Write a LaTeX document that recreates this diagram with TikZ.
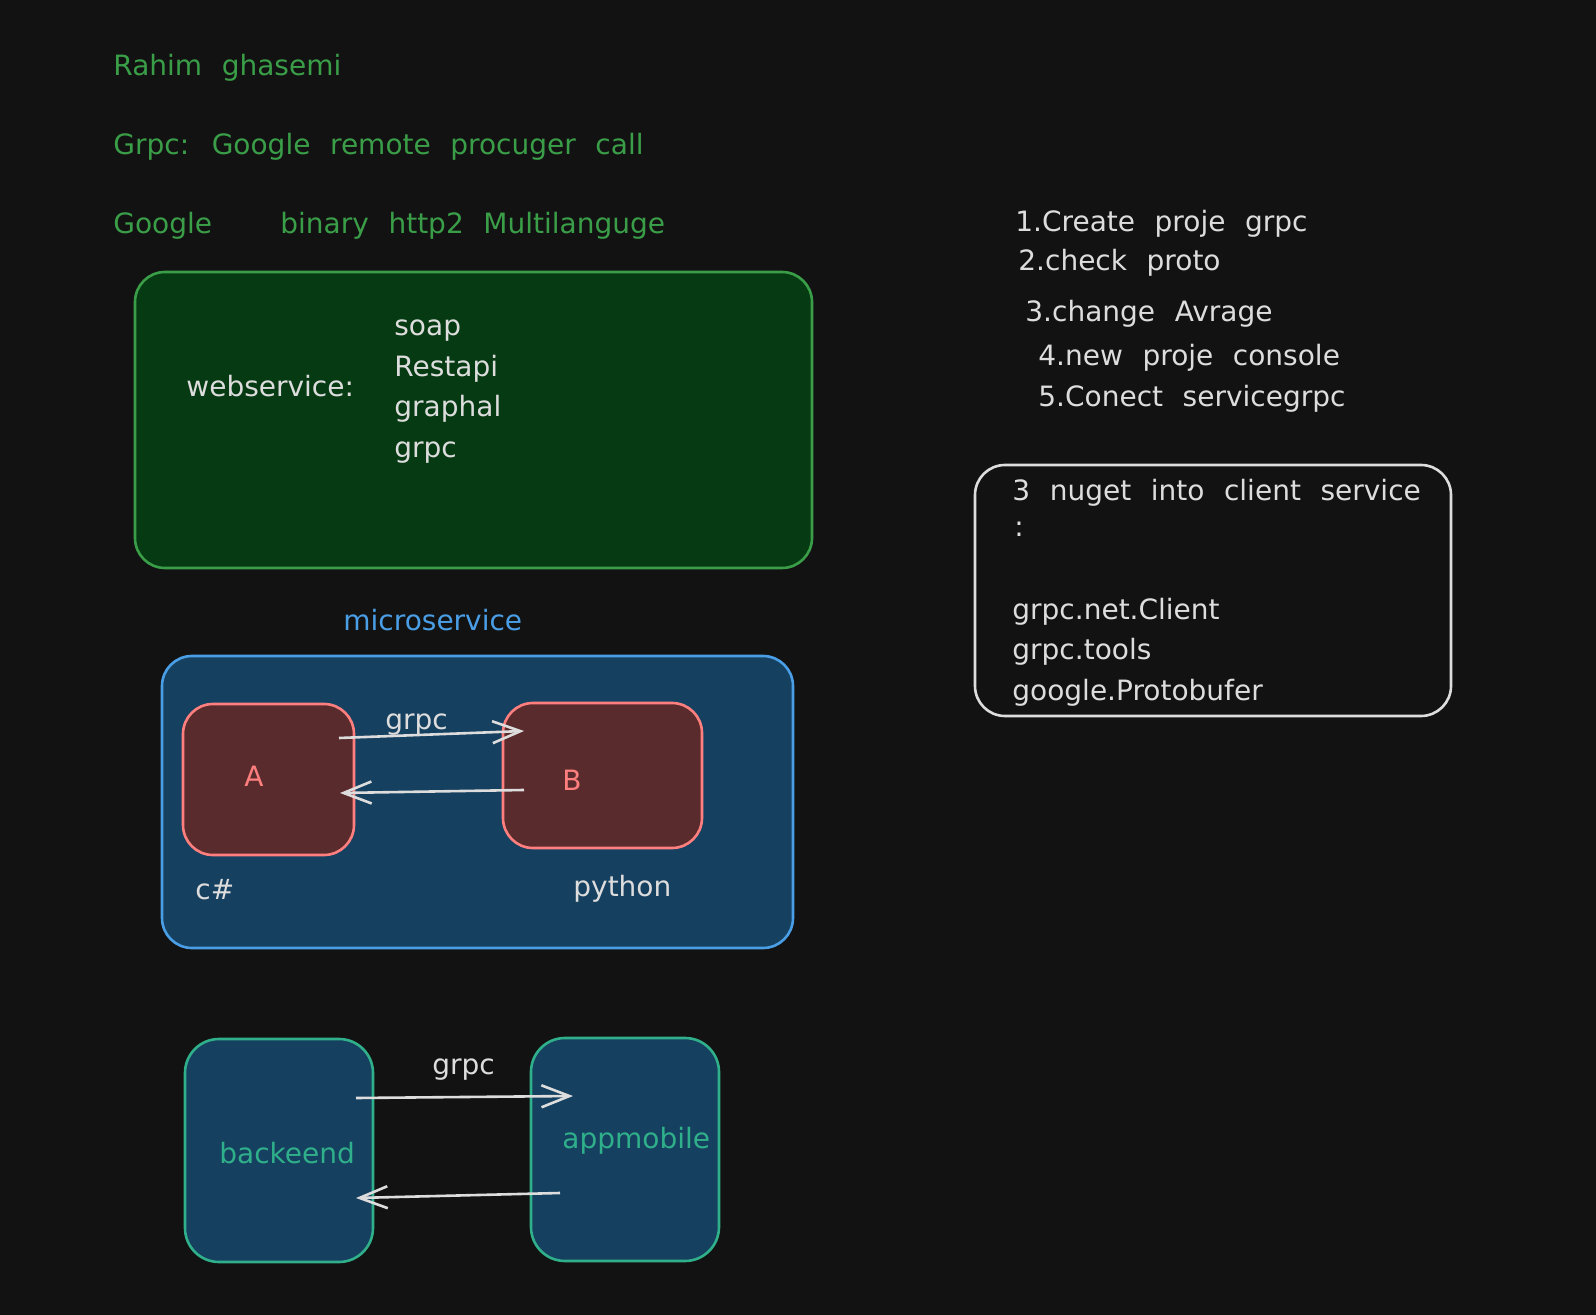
\documentclass[tikz,border=0pt]{standalone}
\usepackage{fontspec}
\setmainfont[WordSpace=2.2]{DejaVu Sans}
\usetikzlibrary{arrows.meta}
\definecolor{bgcol}{HTML}{121212}
\definecolor{grntxt}{HTML}{3A9E48}
\definecolor{grnfill}{HTML}{053A12}
\definecolor{bluline}{HTML}{4A9EE6}
\definecolor{blufill}{HTML}{16405F}
\definecolor{redline}{HTML}{FF7F7F}
\definecolor{redfill}{HTML}{5A2B2D}
\definecolor{tealline}{HTML}{2FAF8A}
\definecolor{wht}{HTML}{DDDDDD}

\begin{document}
\begin{tikzpicture}[x=0.5pt,y=-0.5pt,
    txt/.style={anchor=base west,inner sep=0pt,font=\fontsize{14}{20}\selectfont,text=wht},
    gtxt/.style={txt,text=grntxt},
    box/.style={rounded corners=15pt,line width=1.3pt,inner sep=0pt,outer sep=0pt},
    arr/.style={draw=wht,line width=1.3pt,-{Straight Barb[length=14pt,width=11pt]}}]
      \fill[bgcol] (0,0) rectangle (1596,1315);
      \useasboundingbox (0,0) rectangle (1596,1315);

      % header lines
      \node[gtxt] (rahim) at (113,76) {Rahim ghasemi};
      \node[gtxt] (grpcdef) at (113,155) {Grpc: Google remote procuger call};
      \node[gtxt] (google) at (113,234) {Google};
      \node[gtxt] (binary) at (280,234) {binary http2 Multilanguge};

      % webservice box
      \node[box,draw=grntxt,fill=grnfill,minimum width=338.5pt,minimum height=148pt] (web) at (473.5,420) {};
      \node[txt] (websvc) at (186,397) {webservice:};
      \node[txt] (soap) at (394,336) {soap};
      \node[txt] (rest) at (394,377) {Restapi};
      \node[txt] (graphal) at (394,417) {graphal};
      \node[txt] (grpcw) at (394,458) {grpc};

      % steps
      \node[txt] (s1) at (1015,232) {1.Create proje grpc};
      \node[txt] (s2) at (1018,271) {2.check proto};
      \node[txt] (s3) at (1025,322) {3.change Avrage};
      \node[txt] (s4) at (1038,366) {4.new proje console};
      \node[txt] (s5) at (1038,407) {5.Conect servicegrpc};

      % nuget box
      \node[box,draw=wht,minimum width=238pt,minimum height=125.5pt] (nuget) at (1213,590.5) {};
      \node[txt] (ng0) at (1012,501) {3 nuget into client service};
      \node[txt] (ng1) at (1014,537) {:};
      \node[txt] (ng2) at (1012,620) {grpc.net.Client};
      \node[txt] (ng3) at (1012,660) {grpc.tools};
      \node[txt] (ng4) at (1012,700) {google.Protobufer};

      % microservice
      \node[txt,text=bluline] (micro) at (343,631) {microservice};
      \node[box,draw=bluline,fill=blufill,minimum width=315.5pt,minimum height=146pt] (msbox) at (477.5,802) {};
      \node[box,draw=redline,fill=redfill,minimum width=85.5pt,minimum height=75.5pt] (nA) at (268.5,779.5) {};
      \node[box,draw=redline,fill=redfill,minimum width=99.5pt,minimum height=72.5pt] (nB) at (602.5,775.5) {};
      \node[txt,text=redline] (la) at (244,786) {A};
      \node[txt,text=redline] (lb) at (562,790) {B};
      \node[txt] (g1) at (385,729) {grpc};
      \node[txt] (cs) at (195,899) {c\#};
      \node[txt] (py) at (573,896) {python};
      \coordinate (a1) at (339,738);
      \coordinate (b1) at (524,731);
      \coordinate (b2) at (524,790);
      \coordinate (a2) at (340,793);
      \draw[arr] (a1) -- (b1);
      \draw[arr] (b2) -- (a2);

      % backend and app
      \node[box,rounded corners=17pt,draw=tealline,fill=blufill,minimum width=94pt,minimum height=111.5pt] (back) at (279,1150.5) {};
      \node[box,rounded corners=17pt,draw=tealline,fill=blufill,minimum width=94pt,minimum height=111.5pt] (app) at (625,1149.5) {};
      \node[txt,text=tealline] (lback) at (219,1163) {backeend};
      \node[txt,text=tealline] (lapp) at (562,1148) {appmobile};
      \node[txt] (g2) at (432,1074) {grpc};
      \coordinate (c1) at (356,1098);
      \coordinate (d1) at (573,1096);
      \coordinate (d2) at (560,1193);
      \coordinate (c2) at (356,1198);
      \draw[arr] (c1) -- (d1);
      \draw[arr] (d2) -- (c2);
\end{tikzpicture}
\end{document}
